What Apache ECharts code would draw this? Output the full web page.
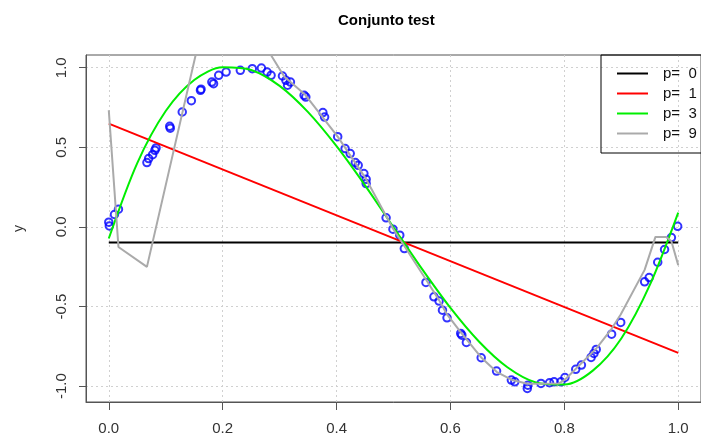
<!DOCTYPE html>
<html>
<head>
<meta charset="utf-8">
<script src="https://cdn.jsdelivr.net/npm/echarts@6/dist/echarts.min.js"></script>
<style>html,body{margin:0;padding:0;background:#fff}#c{width:701px;height:441px}</style>
</head>
<body>
<div id="c"></div>
<script>
const titleText = 'Conjunto test';
const yName = 'y';
const xTicks = [0, 0.2, 0.4, 0.6, 0.8, 1.0];
const yTicks = [-1, -0.5, 0, 0.5, 1];
const legendLabels = ['p=  0', 'p=  1', 'p=  3', 'p=  9'];

const pointsX = [0.000,0.001,0.010,0.017,0.067,0.070,0.077,0.081,0.083,0.107,0.108,0.129,0.145,0.161,0.162,0.181,0.184,0.193,0.206,0.231,0.252,0.268,0.278,0.285,0.305,0.311,0.314,0.319,0.343,0.346,0.376,0.379,0.402,0.415,0.424,0.433,0.438,0.448,0.452,0.452,0.487,0.499,0.511,0.519,0.557,0.571,0.580,0.586,0.594,0.618,0.620,0.628,0.654,0.681,0.707,0.713,0.735,0.736,0.759,0.774,0.782,0.794,0.801,0.820,0.830,0.847,0.852,0.856,0.883,0.899,0.941,0.949,0.964,0.976,0.988,0.999];
const pointsY = [0.030,0.006,0.078,0.111,0.404,0.429,0.454,0.481,0.496,0.632,0.620,0.722,0.793,0.858,0.865,0.910,0.900,0.952,0.973,0.984,0.994,0.998,0.973,0.952,0.948,0.921,0.890,0.910,0.827,0.816,0.718,0.690,0.567,0.492,0.461,0.404,0.387,0.335,0.299,0.272,0.057,-0.014,-0.052,-0.136,-0.349,-0.439,-0.466,-0.523,-0.571,-0.669,-0.680,-0.726,-0.822,-0.906,-0.962,-0.973,-1.015,-0.994,-0.983,-0.979,-0.973,-0.973,-0.946,-0.895,-0.868,-0.820,-0.795,-0.770,-0.674,-0.600,-0.345,-0.318,-0.222,-0.142,-0.067,0.004];

const p0X = [0, 1];
const p0Y = [-0.098, -0.098];
const p1X = [0, 1];
const p1Y = [0.649, -0.791];
const p3X = [0,0.05,0.1,0.15,0.2,0.25,0.3,0.35,0.4,0.45,0.5,0.55,0.6,0.65,0.7,0.75,0.8,0.85,0.9,0.95,1.0];
const p3Y = [-0.073,0.401,0.728,0.923,1.003,0.986,0.886,0.721,0.507,0.261,-0.002,-0.264,-0.509,-0.720,-0.882,-0.977,-0.990,-0.903,-0.701,-0.366,0.090];
const p9X = [0,0.017,0.067,0.186,0.285,0.308,0.345,0.402,0.452,0.499,0.519,0.557,0.580,0.594,0.620,0.654,0.681,0.707,0.735,0.790,0.800,0.857,0.883,0.899,0.941,0.960,0.979,0.988,1.0];
const p9Y = [0.733,-0.126,-0.251,1.600,1.078,0.945,0.830,0.567,0.300,-0.010,-0.120,-0.330,-0.460,-0.550,-0.670,-0.820,-0.910,-0.960,-0.985,-0.984,-0.963,-0.760,-0.640,-0.550,-0.270,-0.063,-0.063,-0.090,-0.240];

const zip = (xs, ys) => xs.map((x, i) => [x, ys[i]]);
const FONT = 'Liberation Sans, Arial, sans-serif';
const chart = echarts.init(document.getElementById('c'), null, {renderer: 'canvas'});
const lineSeries = (name, xs, ys, color, smooth) => ({
  name, type: 'line', data: zip(xs, ys), symbol: 'none', smooth: smooth || false,
  lineStyle: {color, width: 2}, itemStyle: {color}, animation: false, clip: true
});
chart.setOption({
  animation: false,
  backgroundColor: '#fff',
  title: {text: titleText, left: 333, top: 8,
    textStyle: {fontFamily: FONT, fontSize: 15, fontWeight: 'bold', color: '#000'}},
  grid: {left: 86, top: 55, width: 623, height: 347, show: true, borderColor: '#555', borderWidth: 1},
  legend: {
    orient: 'vertical', left: 601, top: 55, data: legendLabels,
    itemWidth: 31, itemHeight: 14, itemGap: 5,
    itemStyle: {opacity: 0},
    padding: [11, 40, 12, 15], borderColor: '#000', borderWidth: 1,
    textStyle: {fontFamily: FONT, fontSize: 15, color: '#111', padding: [0, 0, 0, 10]}
  },
  xAxis: {
    type: 'value', min: -0.04, max: 1.04,
    axisLine: {show: true, onZero: false, lineStyle: {color: '#555'}},
    axisTick: {show: true, length: 8, customValues: xTicks, lineStyle: {color: '#555'}},
    axisLabel: {customValues: xTicks, formatter: v => v.toFixed(1), margin: 19,
      fontFamily: FONT, fontSize: 15, color: '#333'},
    splitLine: {show: true, lineStyle: {color: '#d0d0d0', type: [2, 3], width: 1}}
  },
  yAxis: {
    type: 'value', min: -1.1, max: 1.08,
    name: yName, nameLocation: 'middle', nameGap: 60, nameRotate: 90,
    nameTextStyle: {fontFamily: FONT, fontSize: 14, color: '#333'},
    axisLine: {show: true, onZero: false, lineStyle: {color: '#555'}},
    axisTick: {show: true, length: 7, customValues: yTicks, lineStyle: {color: '#555'}},
    axisLabel: {customValues: yTicks, formatter: v => v.toFixed(1), rotate: 90, margin: 17,
      fontFamily: FONT, fontSize: 15, color: '#333'},
    splitLine: {show: true, lineStyle: {color: '#d0d0d0', type: [2, 3], width: 1}}
  },
  series: [
    {name: 'test', type: 'scatter', data: zip(pointsX, pointsY), symbol: 'circle', symbolSize: 7.5,
     itemStyle: {color: 'rgba(0,0,0,0)', borderColor: '#0000ff', borderWidth: 2}},
    lineSeries(legendLabels[0], p0X, p0Y, '#000000'),
    lineSeries(legendLabels[1], p1X, p1Y, '#ff0000'),
    lineSeries(legendLabels[2], p3X, p3Y, '#00ee00', 0.3),
    lineSeries(legendLabels[3], p9X, p9Y, '#aaaaaa')
  ]
});
</script>
</body>
</html>
